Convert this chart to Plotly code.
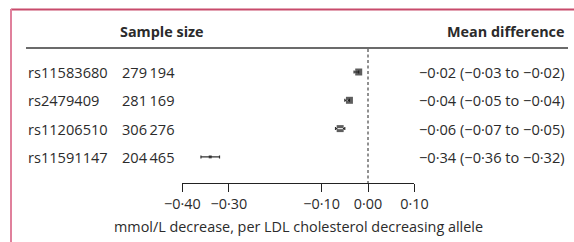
import plotly.graph_objects as go

snps = ["rs11583680", "rs2479409", "rs11206510", "rs11591147"]
sample_sizes = ["279\u2009194", "281\u2009169", "306\u2009276", "204\u2009465"]
mean_diff = [-0.02, -0.04, -0.06, -0.34]
ci_low = [-0.03, -0.05, -0.07, -0.36]
ci_high = [-0.02, -0.04, -0.05, -0.32]
tick_vals = [-0.40, -0.30, -0.10, 0.00, 0.10]
tick_text = ["\u22120\u00b740", "\u22120\u00b730", "\u22120\u00b710", "0\u00b700", "0\u00b710"]
x_label = "mmol/L decrease, per LDL cholesterol decreasing allele"

W, H = 574, 242
FONT = "Open Sans"
TXT = "#2b2b2b"
FS = 14.6

row_y0, row_step = 72, 28.3
row_y = [row_y0 + i * row_step for i in range(len(snps))]
axis_y = 183
zero_px, px_per_unit = 368, 464.0
x2_dom = [(zero_px + tick_vals[0] * px_per_unit) / W, (zero_px + tick_vals[-1] * px_per_unit) / W]


def fmt(v):
    s = f"{abs(v):.2f}".replace(".", "\u00b7")
    return ("\u2212" if v < 0 else "") + s


fig = go.Figure()

sizes = [7, 7, 7, 3]
fig.add_trace(go.Scatter(
    x=mean_diff, y=row_y, xaxis="x2", yaxis="y", mode="markers",
    marker=dict(symbol="square", size=sizes, color="#1a1a1a", line=dict(width=0)),
    error_x=dict(type="data", symmetric=False,
                 array=[h - m for h, m in zip(ci_high, mean_diff)],
                 arrayminus=[m - l for m, l in zip(mean_diff, ci_low)],
                 color="#333333", thickness=1.2, width=1.5),
    cliponaxis=False, showlegend=False, hoverinfo="skip"))

ci_inner_x, ci_inner_y = [], []
for i in (1, 2):
    ci_inner_x += [ci_low[i] + 0.004, ci_high[i] - 0.004, None]
    ci_inner_y += [row_y[i], row_y[i], None]
fig.add_trace(go.Scatter(x=ci_inner_x, y=ci_inner_y, xaxis="x2", yaxis="y", mode="lines",
                         line=dict(color="#e8e8e8", width=1.2), cliponaxis=False,
                         showlegend=False, hoverinfo="skip"))

shapes = [
    dict(type="line", xref="x", yref="y", x0=11, x1=W, y0=9.5, y1=9.5, line=dict(color="#c84a6b", width=2)),
    dict(type="line", xref="x", yref="y", x0=11, x1=11, y0=9, y1=H, line=dict(color="#e0809c", width=2)),
    dict(type="line", xref="x", yref="y", x0=26, x1=568, y0=48, y1=48, line=dict(color="#3a3a3a", width=1.6)),
    dict(type="line", xref="x2", yref="y", x0=0, x1=0, y0=49, y1=axis_y, line=dict(color="#222", width=1, dash="3px,2.5px")),
]

ann = []
ann.append(dict(x=162, y=31, text="<b>Sample size</b>", xanchor="center", size=14.4))
ann.append(dict(x=567, y=31, text="<b>Mean difference</b>", xanchor="right", size=14.4))
for i, s in enumerate(snps):
    ann.append(dict(x=26, y=row_y[i], text=s, xanchor="left", size=FS))
    ann.append(dict(x=120, y=row_y[i], text=sample_sizes[i], xanchor="left", size=FS))
    ann.append(dict(x=567, y=row_y[i],
                    text=f"{fmt(mean_diff[i])} ({fmt(ci_low[i])} to {fmt(ci_high[i])})",
                    xanchor="right", size=FS))
ann.append(dict(x=298, y=226, text=x_label, xanchor="center", size=14.4))
for a in ann:
    sz = a.pop("size")
    a.update(xref="x", yref="y", yanchor="middle", showarrow=False,
             font=dict(family=FONT, size=sz, color=TXT))

fig.update_layout(
    template="none",
    width=W, height=H, autosize=False,
    margin=dict(l=0, r=0, t=0, b=0, pad=0, autoexpand=False),
    paper_bgcolor="white", plot_bgcolor="white",
    xaxis=dict(range=[0, W], visible=False, domain=[0, 1], automargin=False),
    yaxis=dict(range=[H, 0], visible=False, domain=[0, 1], automargin=False),
    xaxis2=dict(anchor="free", position=1 - axis_y / H, domain=x2_dom, automargin=False,
                range=[tick_vals[0], tick_vals[-1]], showline=True, linecolor="#222", linewidth=1,
                ticks="outside", ticklen=8, tickwidth=1, tickcolor="#222",
                tickvals=tick_vals, ticktext=tick_text, showgrid=False, zeroline=False,
                tickfont=dict(family=FONT, size=14.4, color=TXT)),
    shapes=shapes, annotations=ann,
)

fig.write_html("out.html", config={"displayModeBar": False, "staticPlot": True},
               post_script="document.body.style.margin='0px';document.body.style.overflow='hidden';")
